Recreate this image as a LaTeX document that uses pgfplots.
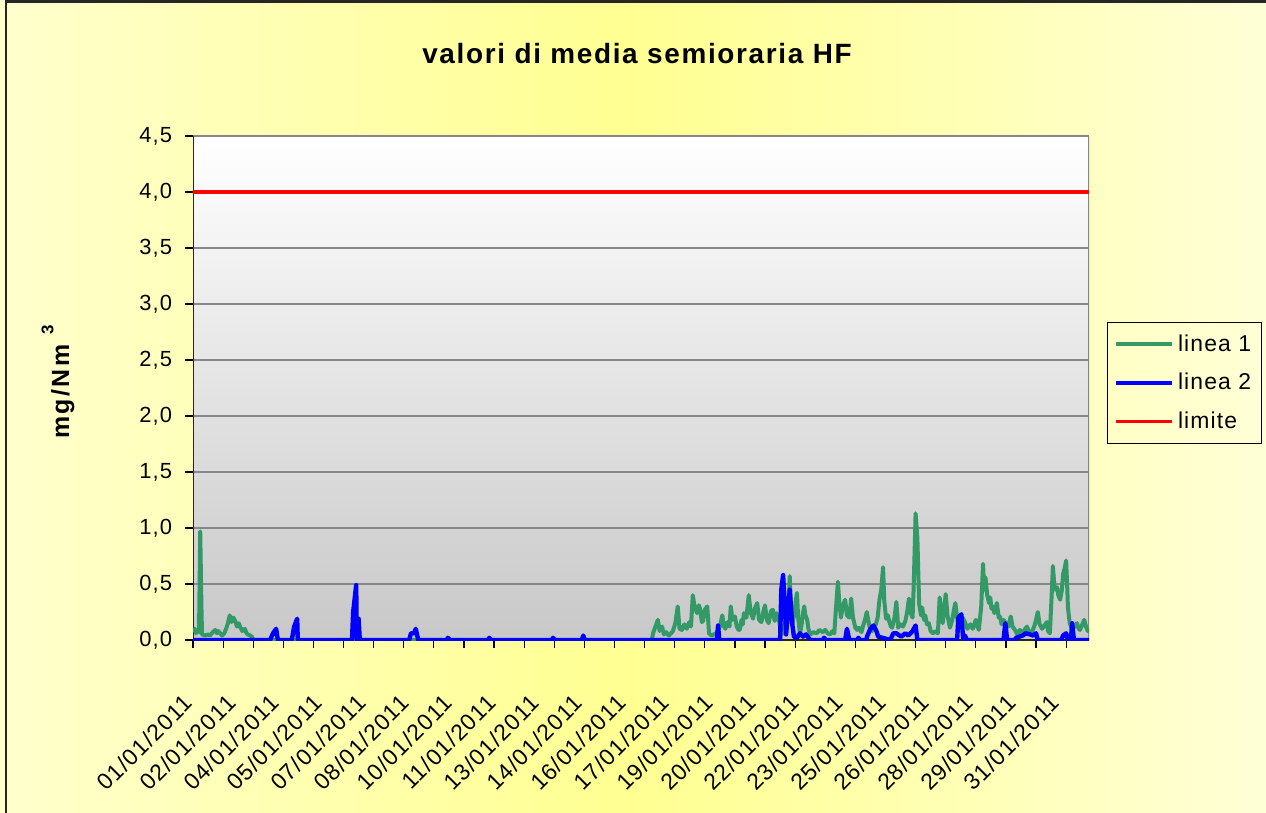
\documentclass[border=0pt]{standalone}
\usepackage{fontspec}
\setmainfont{Liberation Sans}
\newfontfamily\tk[LetterSpace=5]{Liberation Sans}
\newfontfamily\ttl[LetterSpace=6]{Liberation Sans}
\newfontfamily\ylab[LetterSpace=10]{Liberation Sans}
\usepackage{pgfplots}
\pgfplotsset{compat=1.18}
\definecolor{lgreen}{RGB}{51,153,102}
\definecolor{lblue}{RGB}{0,0,255}
\definecolor{lred}{RGB}{255,0,0}
\definecolor{yl}{RGB}{255,255,205}
\definecolor{ym}{RGB}{255,255,145}
\definecolor{yr}{RGB}{255,255,215}
\definecolor{pbot}{RGB}{200,200,200}
\definecolor{gridc}{RGB}{135,135,135}
\begin{document}
\begin{tikzpicture}
\begin{scope}[x=0.5bp,y=-0.5bp]
\shade[left color=yl, right color=yr, middle color=ym] (0,0) rectangle (1266,813);
\draw[line width=1.2bp, black!85] (6,813) -- (6,1.5) -- (1266,1.5);
\node[font=\ttl\bfseries\fontsize{14}{16}\selectfont] at (637,54) {valori di media semioraria HF};
\node[rotate=90, font=\ylab\bfseries\fontsize{12.5}{14}\selectfont] at (58,382) {mg/Nm\hspace{5bp}\raisebox{1.2ex}{\fontsize{8.5}{9}\selectfont 3}};
\end{scope}
\begin{axis}[
  at={(96.5bp,-320bp)}, anchor=south west,
  scale only axis, width=448bp, height=252bp,
  xmin=0, xmax=1488, ymin=0, ymax=4.5,
  axis background/.style={shade, top color=white, bottom color=pbot},
  axis line style={draw=none},
  xtick pos=lower, ytick pos=left,
  ytick={0,0.5,...,4.5},
  xtick={0,50,...,1450}, xticklabels={},
  extra x ticks={0,72,...,1440},
  extra x tick labels={01/01/2011,02/01/2011,04/01/2011,05/01/2011,07/01/2011,08/01/2011,10/01/2011,11/01/2011,13/01/2011,14/01/2011,16/01/2011,17/01/2011,19/01/2011,20/01/2011,22/01/2011,23/01/2011,25/01/2011,26/01/2011,28/01/2011,29/01/2011,31/01/2011},
  extra x tick style={major tick length=0pt, xticklabel style={yshift=-27bp, rotate=45, anchor=east, font=\tk\fontsize{11.5}{13}\selectfont}},
  tick align=outside, major tick length=4bp,
  tick style={black, line width=0.6bp},
  ymajorgrids, grid style={gridc, line width=0.7bp},
  yticklabel style={xshift=-3bp, font=\tk\fontsize{11}{13}\selectfont, /pgf/number format/.cd, fixed, fixed zerofill, precision=1, use comma, assume math mode=true},
  legend style={at={(1.0201,0.631)}, anchor=north west, draw=black, line width=0.6bp, fill=none,
    font=\tk\fontsize{11.5}{13}\selectfont, inner xsep=3bp, inner ysep=4bp, row sep=5.5bp},
  legend cell align=left,
  legend image code/.code={\draw[#1] (0bp,0bp) -- (28bp,0bp);},
]
\draw[gridc, line width=1bp] (rel axis cs:0,1) -- (rel axis cs:1,1) -- (rel axis cs:1,0);
\draw[black!85, line width=1bp] (rel axis cs:0,1) -- (rel axis cs:0,0) -- (rel axis cs:1,0);
\addplot[lgreen, line width=2bp, line join=round] coordinates {
(0,0.07)(3,0.10)(5,0.06)(8,0.09)(10,0.07)(12,0.97)(14,0.30)(15,0.05)(20,0.04)(25,0.05)(28,0.04)(33,0.07)(37,0.09)(40,0.06)(42,0.08)(45,0.06)(48,0.04)(52,0.06)(55,0.10)(58,0.15)(61,0.22)(64,0.16)(67,0.20)(70,0.17)(73,0.12)(76,0.15)(78,0.12)(82,0.08)(86,0.10)(89,0.06)(91,0.05)(95,0.04)(98,0.03)(100,0)
(762,0)(764,0.06)(768,0.12)(772,0.18)(775,0.08)(779,0.12)(782,0.05)(786,0.07)(790,0.04)(794,0.06)(797,0.08)(801,0.15)(805,0.30)(808,0.10)(812,0.09)(816,0.14)(820,0.10)(824,0.16)(827,0.12)(830,0.40)(833,0.30)(837,0.24)(840,0.31)(842,0.28)(845,0.16)(847,0.17)(850,0.27)(854,0.30)(857,0.06)(861,0.04)(865,0.05)(869,0.06)
(875,0.12)(879,0.22)(882,0.12)(884,0.10)(888,0.16)(891,0.12)(893,0.30)(896,0.18)(900,0.21)(903,0.12)(906,0.09)(908,0.09)(911,0.18)(913,0.14)(915,0.24)(919,0.20)(923,0.40)(926,0.25)(930,0.19)(933,0.28)(937,0.33)(940,0.18)(944,0.16)(947,0.25)(950,0.31)(953,0.18)(956,0.15)(960,0.26)(963,0.27)(966,0.17)(969,0.24)(972,0.21)(975,0.12)(978,0.05)(982,0.14)(986,0.20)(989,0.30)(991,0.57)
(993,0.30)(996,0.15)(999,0.25)(1001,0.35)(1003,0.42)(1005,0.20)(1008,0.05)(1011,0.15)(1013,0.24)(1015,0.30)(1017,0.22)(1020,0.18)(1022,0.10)(1025,0.05)(1030,0.07)(1036,0.06)(1040,0.09)(1046,0.07)(1050,0.09)(1054,0.06)(1058,0.05)(1062,0.08)(1065,0.06)(1068,0.30)(1071,0.52)(1073,0.36)(1076,0.20)(1079,0.30)(1083,0.36)(1086,0.22)(1090,0.20)(1093,0.37)(1096,0.20)(1100,0.11)(1103,0.09)(1106,0.11)(1110,0.07)(1113,0.13)(1116,0.18)(1119,0.25)(1122,0.16)(1124,0.11)(1128,0.08)(1131,0.12)(1134,0.14)(1137,0.20)(1140,0.36)(1143,0.45)(1146,0.65)(1148,0.35)(1151,0.19)(1154,0.22)(1156,0.17)(1159,0.12)(1161,0.11)(1165,0.20)(1168,0.34)(1170,0.20)(1171,0.11)(1175,0.14)(1179,0.12)(1183,0.17)(1186,0.25)(1189,0.37)(1192,0.24)(1195,0.20)(1197,0.50)(1200,1.13)(1203,0.91)(1205,0.50)(1206,0.32)(1209,0.22)(1211,0.29)(1214,0.18)(1216,0.22)(1219,0.14)(1222,0.15)(1225,0.08)(1229,0.06)(1233,0.08)(1237,0.06)(1240,0.38)(1243,0.25)(1245,0.15)(1248,0.30)(1250,0.41)(1253,0.22)(1257,0.11)(1261,0.18)(1264,0.28)(1266,0.33)(1269,0.20)(1272,0.14)(1275,0.15)(1278,0.20)(1282,0.16)(1286,0.10)(1291,0.14)(1295,0.10)(1300,0.18)(1303,0.12)(1305,0.09)(1309,0.30)(1312,0.68)(1314,0.45)(1316,0.56)(1319,0.40)(1322,0.33)(1324,0.38)(1326,0.28)(1328,0.30)(1331,0.24)(1335,0.33)(1338,0.20)(1340,0.21)(1343,0.14)(1346,0.18)(1350,0.15)(1354,0.12)(1358,0.21)(1361,0.12)(1365,0.09)(1369,0.05)(1373,0.09)(1378,0.06)(1382,0.10)(1385,0.12)(1389,0.06)(1393,0.07)(1397,0.12)(1400,0.18)(1403,0.25)(1406,0.14)(1410,0.10)(1414,0.13)(1418,0.16)(1420,0.08)(1423,0.06)(1426,0.40)(1428,0.66)(1431,0.45)(1435,0.47)(1437,0.40)(1440,0.36)(1443,0.45)(1445,0.59)(1448,0.65)(1450,0.71)(1452,0.45)(1453,0.29)(1456,0.15)(1460,0.09)(1464,0.12)(1468,0.15)(1471,0.10)(1473,0.09)(1477,0.14)(1480,0.18)(1483,0.12)(1486,0.08)(1488,0.10)
};
\addlegendentry{linea 1}
\addplot[lblue, line width=2.2bp, line join=round] coordinates {
(0,0)(128,0)(133,0.06)(138,0.10)(141,0)(164,0)(168,0.12)(173,0.19)(174,0)(264,0)(266,0.25)(271,0.49)(272,0)(275,0.19)(277,0)
(359,0)(362,0.06)(367,0.06)(370,0.10)(374,0)(422,0)(423,0.02)(427,0)(490,0)(492,0.02)(495,0)(596,0)(598,0.02)(601,0)(646,0)(648,0.04)(651,0)
(870,0)(872,0.13)(874,0)(975,0)(977,0.45)(980,0.58)(983,0.30)(985,0.05)(988,0.24)(991,0.45)(995,0.15)(998,0.03)(1003,0.02)(1008,0.06)(1013,0.03)(1018,0.05)(1025,0)
(1046,0)(1048,0.02)(1051,0)(1083,0)(1086,0.10)(1090,0)(1103,0)(1105,0.02)(1108,0)(1118,0)(1120,0.04)(1125,0.10)(1130,0.13)(1135,0.08)(1138,0.03)
(1158,0)(1163,0.06)(1168,0.06)(1176,0.03)(1183,0.06)(1188,0.04)(1195,0.08)(1200,0.13)(1203,0)(1269,0)(1271,0.20)(1276,0.23)(1279,0.01)(1282,0.04)(1285,0)
(1346,0)(1349,0.15)(1352,0)(1365,0)(1367,0.02)(1378,0.04)(1383,0.06)(1390,0.05)(1395,0.04)(1400,0.06)(1403,0)(1442,0)(1445,0.04)(1450,0.06)(1453,0)
(1458,0)(1460,0.15)(1463,0)(1488,0)
};
\addlegendentry{linea 2}
\addplot[lred, line width=1.6bp] coordinates {(0,4) (1488,4)};
\addlegendentry{limite}
\end{axis}
\pgfresetboundingbox
\useasboundingbox (0,0) rectangle (633bp,-406.5bp);
\end{tikzpicture}
\end{document}
